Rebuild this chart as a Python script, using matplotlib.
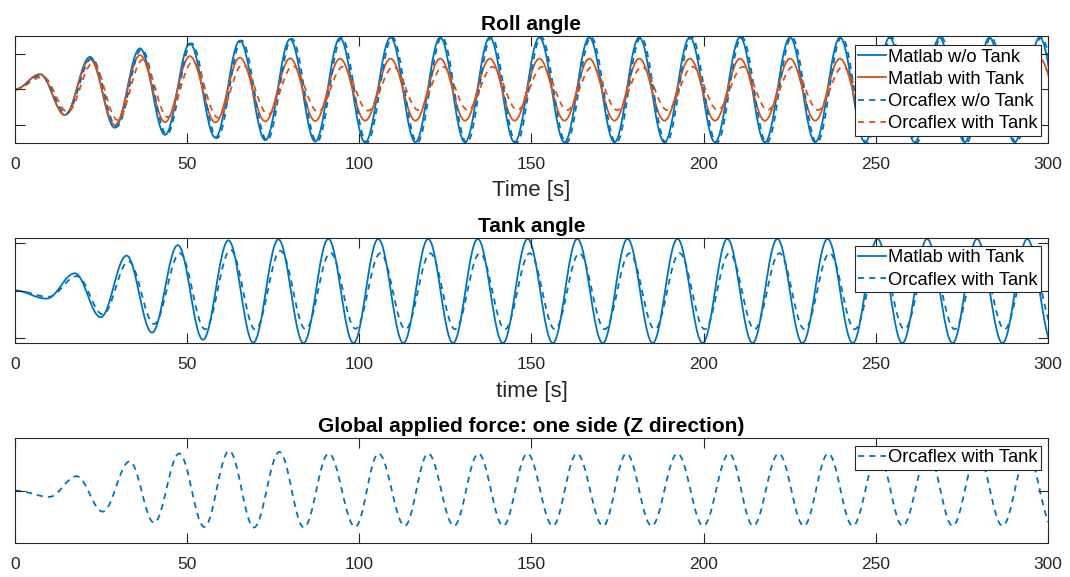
import matplotlib
matplotlib.use("Agg")
import matplotlib.pyplot as plt
from matplotlib.path import Path
from matplotlib.patches import PathPatch
from matplotlib.lines import Line2D

# extrema (time [s], value); curves start flat at 0
roll_t_matlab = [7.3, 14.5, 21.8, 29.0, 36.3, 43.6, 50.8, 58.2, 65.3, 72.7, 79.9, 87.2, 94.4, 101.7,
                 109.1, 116.3, 123.5, 130.7, 137.9, 145.1, 152.3, 159.6, 166.8, 174.1, 181.3, 188.6,
                 196.0, 203.3, 210.6, 217.8, 225.1, 232.4, 239.6, 246.9, 254.0, 261.3, 268.5, 275.8,
                 283.0, 290.3, 297.6, 304.9]
roll_v_wo = [0.43, -0.72, 0.92, -1.08, 1.16, -1.28, 1.30, -1.36, 1.38, -1.43, 1.42, -1.47, 1.45, -1.49,
             1.47, -1.49, 1.47, -1.49, 1.47, -1.49, 1.47, -1.49, 1.47, -1.49, 1.47, -1.49, 1.47, -1.49,
             1.47, -1.49, 1.47, -1.49, 1.47, -1.49, 1.47, -1.49, 1.47, -1.49, 1.47, -1.49, 1.47, -1.49]
roll_v_with = [0.43, -0.72, 0.85, -1.00, 0.97, -0.92, 0.94, -0.93, 0.90, -0.90, 0.88, -0.89, 0.87, -0.88,
               0.87, -0.88, 0.87, -0.88, 0.87, -0.88, 0.87, -0.88, 0.87, -0.88, 0.87, -0.88, 0.87, -0.88,
               0.87, -0.88, 0.87, -0.88, 0.87, -0.88, 0.87, -0.88, 0.87, -0.88, 0.87, -0.88, 0.87, -0.88]
roll_t_orca_wo = [7.6, 14.9, 22.3, 29.5, 36.8, 44.1, 51.3, 58.7, 65.8, 73.2, 80.4, 87.7, 94.9, 102.2,
                  109.6, 116.8, 124.0, 131.2, 138.4, 145.6, 152.8, 160.1, 167.3, 174.6, 181.8, 189.1,
                  196.5, 203.8, 211.1, 218.3, 225.6, 232.9, 240.1, 247.4, 254.5, 261.8, 269.0, 276.3,
                  283.5, 290.8, 298.1, 305.4]
roll_v_orca_wo = [0.40, -0.68, 0.88, -1.05, 1.14, -1.27, 1.30, -1.37, 1.38, -1.44, 1.43, -1.48, 1.46, -1.50,
                  1.47, -1.50, 1.48, -1.51, 1.48, -1.51, 1.48, -1.51, 1.48, -1.51, 1.48, -1.51, 1.48, -1.51,
                  1.48, -1.51, 1.48, -1.51, 1.48, -1.51, 1.48, -1.51, 1.48, -1.51, 1.48, -1.51, 1.48, -1.51]
roll_t_orca_with = [8.1, 15.3, 22.6, 29.8, 37.1, 44.4, 51.6, 59.0, 66.1, 73.5, 80.7, 88.0, 95.2, 102.5,
                    109.9, 117.1, 124.3, 131.5, 138.7, 145.9, 153.1, 160.4, 167.6, 174.9, 182.1, 189.4,
                    196.8, 204.1, 211.4, 218.6, 225.9, 233.2, 240.4, 247.7, 254.8, 262.1, 269.3, 276.6,
                    283.8, 291.1, 298.4, 305.7]
roll_v_orca_with = [0.36, -0.63, 0.74, -0.86, 0.84, -0.78, 0.78, -0.80, 0.70, -0.70, 0.66, -0.63, 0.64, -0.60,
                    0.64, -0.58, 0.64, -0.58, 0.64, -0.58, 0.64, -0.58, 0.64, -0.58, 0.64, -0.58, 0.64, -0.58,
                    0.64, -0.58, 0.64, -0.58, 0.64, -0.58, 0.64, -0.58, 0.64, -0.58, 0.64, -0.58, 0.64, -0.58]

tank_t_matlab = [9.2, 17.4, 24.9, 32.4, 39.8, 47.3, 54.6, 62.0, 69.2, 76.5, 83.8, 91.0, 98.3, 105.5,
                 112.8, 120.0, 127.2, 134.4, 141.7, 148.9, 156.2, 163.3, 170.7, 177.9, 185.2, 192.4,
                 199.7, 206.9, 214.2, 221.4, 228.7, 236.0, 243.3, 250.5, 257.7, 264.9, 272.3, 279.4,
                 286.8, 294.0, 301.2]
tank_v_matlab = [-0.17, 0.36, -0.56, 0.73, -0.88, 0.95, -1.03, 1.05, -1.09, 1.07,
                 -1.10, 1.08, -1.10, 1.08, -1.10, 1.08, -1.10, 1.08, -1.10, 1.08, -1.10, 1.08, -1.10, 1.08,
                 -1.10, 1.08, -1.10, 1.08, -1.10, 1.08, -1.10, 1.08, -1.10, 1.08, -1.10, 1.08, -1.10, 1.08,
                 -1.10, 1.08, -1.10]
tank_t_orca = [9.8, 18.0, 25.5, 33.0, 40.4, 47.9, 55.2, 62.6, 69.8, 77.1, 84.4, 91.6, 98.9, 106.1,
               113.4, 120.6, 127.8, 135.0, 142.3, 149.5, 156.8, 163.9, 171.3, 178.5, 185.8, 193.0,
               200.3, 207.5, 214.8, 222.0, 229.3, 236.6, 243.9, 251.1, 258.3, 265.5, 272.9, 280.0,
               287.4, 294.6, 301.8]
tank_v_orca = [-0.13, 0.30, -0.50, 0.61, -0.70, 0.78, -0.81, 0.85, -0.82, 0.83, -0.81, 0.79, -0.80,
               0.78, -0.81, 0.78, -0.81, 0.78, -0.81, 0.78, -0.81, 0.78, -0.81, 0.78, -0.81, 0.78, -0.81,
               0.78, -0.81, 0.78, -0.81, 0.78, -0.81, 0.78, -0.81, 0.78, -0.81, 0.78, -0.81, 0.78, -0.81]

force_t = [10.0, 17.9, 25.5, 33.3, 40.4, 47.7, 55.0, 62.2, 69.4, 76.8, 83.9, 91.1, 98.8, 105.6,
           113.2, 120.0, 127.5, 134.6, 141.8, 148.8, 156.2, 163.2, 170.8, 177.6, 184.9, 192.4,
           199.9, 207.4, 214.4, 221.8, 229.1, 236.2, 243.3, 250.7, 257.8, 265.2, 272.3, 279.5,
           286.8, 294.0, 301.2]
force_v = [-0.12, 0.27, -0.40, 0.55, -0.61, 0.70, -0.69, 0.75, -0.70, 0.73, -0.70, 0.70, -0.69,
           0.70, -0.67, 0.70, -0.67, 0.70, -0.67, 0.70, -0.67, 0.70, -0.67, 0.70, -0.67, 0.70, -0.67,
           0.70, -0.67, 0.70, -0.67, 0.70, -0.67, 0.70, -0.67, 0.70, -0.67, 0.70, -0.67, 0.70, -0.67]

BLUE = "#0072BD"
RED = "#D95319"
DARK = "#262626"
DASH = (0, (3.4, 2.8))
LW = 1.3

plt.rcParams["font.family"] = ["Liberation Sans", "DejaVu Sans"]


def wave(ax, t, v, color, ls):
    # smooth curve through the extrema: cubic bezier with flat tangents at each extremum
    k = 0.364
    verts = [(0.0, 0.0)]
    codes = [Path.MOVETO]
    t0, v0 = 0.0, 0.0
    for t1, v1 in zip(t, v):
        dt = t1 - t0
        verts += [(t0 + k * dt, v0), (t1 - k * dt, v1), (t1, v1)]
        codes += [Path.CURVE4] * 3
        t0, v0 = t1, v1
    ax.add_patch(PathPatch(Path(verts, codes), fill=False, edgecolor=color,
                           linewidth=LW, linestyle=ls))
    return Line2D([], [], color=color, linewidth=LW, linestyle=ls)


def style(ax, ylim, yticks):
    ax.set_xlim(0, 300)
    ax.set_ylim(*ylim)
    ax.set_xticks([0, 50, 100, 150, 200, 250, 300])
    ax.set_yticks(yticks)
    ax.set_yticklabels([])
    ax.tick_params(direction="in", length=7, width=0.8, top=True, right=True,
                   labelsize=12.5, colors=DARK, pad=10)
    for s in ax.spines.values():
        s.set_color(DARK)
        s.set_linewidth(0.8)


def legend(ax, handles, labels, top_px, h_px):
    ax.legend(handles, labels, loc="upper right",
              bbox_to_anchor=(1 - 7 / 1033, 1 - top_px / h_px), borderaxespad=0,
              fontsize=13.2, frameon=True, fancybox=False, framealpha=1, edgecolor=DARK,
              handlelength=1.5, handletextpad=0.1, borderpad=0.2, labelspacing=0.28)
    ax.get_legend().get_frame().set_linewidth(0.8)


fig = plt.figure(figsize=(10.7, 5.77), dpi=100)
ax1 = fig.add_axes([0.014, 0.7522, 0.9654, 0.1854])
ax2 = fig.add_axes([0.014, 0.405, 0.9654, 0.183])
ax3 = fig.add_axes([0.014, 0.0584, 0.9654, 0.183])

h1 = wave(ax1, roll_t_matlab, roll_v_wo, BLUE, "-")
h2 = wave(ax1, roll_t_matlab, roll_v_with, RED, "-")
h3 = wave(ax1, roll_t_orca_wo, roll_v_orca_wo, BLUE, DASH)
h4 = wave(ax1, roll_t_orca_with, roll_v_orca_with, RED, DASH)
style(ax1, (-1.51, 1.51), [-1, 0, 1])
ax1.set_title("Roll angle", fontsize=15, fontweight="bold", pad=4)
ax1.set_xlabel("Time [s]", fontsize=16, color=DARK, labelpad=6)
legend(ax1, [h1, h2, h3, h4],
       ["Matlab w/o Tank", "Matlab with Tank", "Orcaflex w/o Tank", "Orcaflex with Tank"], 9, 107)

g1 = wave(ax2, tank_t_matlab, tank_v_matlab, BLUE, "-")
g2 = wave(ax2, tank_t_orca, tank_v_orca, BLUE, DASH)
style(ax2, (-1.105, 1.105), [-1, 0, 1])
ax2.set_title("Tank angle", fontsize=15, fontweight="bold", pad=4)
ax2.set_xlabel("time [s]", fontsize=16, color=DARK, labelpad=6)
legend(ax2, [g1, g2], ["Matlab with Tank", "Orcaflex with Tank"], 8, 105.6)

f1 = wave(ax3, force_t, force_v, BLUE, DASH)
style(ax3, (-1.0, 1.0), [0])
ax3.set_title("Global applied force: one side (Z direction)", fontsize=15, fontweight="bold", pad=4)
legend(ax3, [f1], ["Orcaflex with Tank"], 8, 105.6)

fig.savefig("out.png", dpi=100)
